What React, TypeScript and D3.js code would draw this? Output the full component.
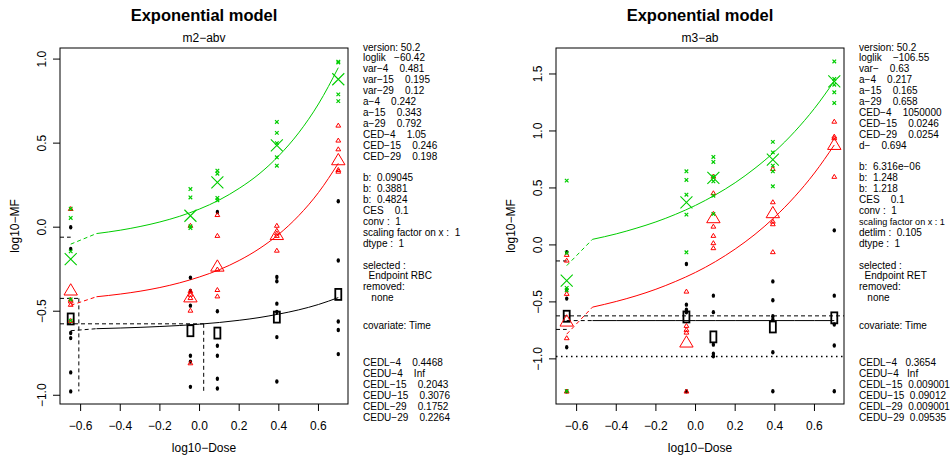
import React from 'react';
import * as d3 from 'd3';

// log10 doses (first column is the control group)
const logDose = [-0.65, -0.046, 0.09, 0.39, 0.7];
const xTicks = [-0.6, -0.4, -0.2, 0.0, 0.2, 0.4, 0.6];

// fitted curve, read at these log10-doses
const curveX = [-0.52, -0.4, -0.3, -0.2, -0.1, 0, 0.1, 0.2, 0.3, 0.4, 0.5, 0.6, 0.7];

// ---- m2-abv (RBC) ----
const abvBlack = [
  [0.0, -0.13, -0.63, -0.66, -0.864, -0.977],
  [-0.3, -0.38, -0.467, -0.765, -0.8, -0.95],
  [0.09, -0.5, -0.705, -0.765, -0.902, -0.96],
  [-0.296, -0.322, -0.455, -0.505, -0.654, -0.918],
  [0.154, -0.198, -0.561, -0.612, -0.755],
];
const abvRed = [
  [0.11, -0.43, -0.44, -0.46, -0.556],
  [0.01, -0.38, -0.4, -0.42, -0.495, -0.808],
  [0.074, -0.05, -0.25, -0.372, -0.41],
  [0.01, -0.035, -0.05, -0.138],
  [0.606, 0.517, 0.465, 0.342, 0.332],
];
const abvGreen = [
  [0.11, 0.055, -0.144, -0.43, -0.556],
  [0.227, 0.177, 0.005, -0.005],
  [0.336, 0.318, 0.174, 0.16],
  [0.626, 0.561, 0.5, 0.416, 0.366],
  [0.985, 0.98, 0.79, 0.75],
];
const abvBlackMean = [-0.546, -0.616, -0.63, -0.535, -0.4];
const abvRedMean = [-0.375, -0.416, -0.233, -0.045, 0.4];
const abvGreenMean = [-0.19, 0.068, 0.267, 0.487, 0.88];
const abvBlackCurve = [-0.604, -0.6, -0.596, -0.591, -0.585, -0.577, -0.567, -0.554, -0.538, -0.517, -0.492, -0.46, -0.419];
const abvRedCurve = [-0.414, -0.398, -0.381, -0.359, -0.331, -0.296, -0.253, -0.198, -0.129, -0.042, 0.068, 0.206, 0.38];
const abvGreenCurve = [-0.038, -0.018, 0.004, 0.031, 0.065, 0.108, 0.162, 0.231, 0.316, 0.425, 0.561, 0.733, 0.949];
const abvCurveStart = [-0.616, -0.465, -0.101];
const abvCes = [-0.575, -0.4236, -0.0596];
const abvCedLog = [0.021, -0.609, -0.703];
const abvYTicks = [-1.0, -0.5, 0.0, 0.5, 1.0];

// ---- m3-ab (RET) ----
const abBlack = [
  [-0.065, -0.392, -0.471, -0.898, -1.284],
  [-0.167, -0.524, -0.568, -0.591, -1.284],
  [-0.445, -0.59, -0.875, -0.954, -0.977],
  [-0.32, -0.486, -0.626, -0.655, -0.942, -1.284],
  [0.128, -0.445, -0.699, -0.883, -1.284],
];
const abRed = [
  [-0.085, -0.135, -0.427, -0.816, -1.284],
  [-0.407, -0.708, -0.743, -0.767, -1.284],
  [0.602, 0.456, 0.163, 0.082, 0.018, -0.026],
  [0.669, 0.377, 0.207, 0.184, -0.061],
  [1.084, 0.953, 0.939, 0.6],
];
const abGreen = [
  [0.564, -0.07, -0.377, -0.398, -1.284],
  [0.646, 0.57, 0.441, 0.266, -0.065],
  [0.772, 0.728, 0.6, 0.558, 0.432, 0.272],
  [0.904, 0.812, 0.696, 0.646, 0.514],
  [1.61, 1.456, 1.406, 1.339, 1.246],
];
const abBlackMean = [-0.626, -0.632, -0.807, -0.72, -0.64];
const abRedMean = [-0.67, -0.854, 0.237, 0.281, 0.88];
const abGreenMean = [-0.313, 0.374, 0.588, 0.748, 1.435];
const abBlackCurve = [-0.664, -0.664, -0.664, -0.664, -0.664, -0.664, -0.664, -0.664, -0.664, -0.664, -0.664, -0.664, -0.664];
const abRedCurve = [-0.546, -0.496, -0.447, -0.389, -0.32, -0.241, -0.147, -0.036, 0.093, 0.245, 0.423, 0.631, 0.877];
const abGreenCurve = [0.049, 0.097, 0.146, 0.202, 0.269, 0.347, 0.439, 0.546, 0.673, 0.82, 0.994, 1.198, 1.438];
const abCurveStart = [-0.664, -0.783, -0.182];
const abCes = [-0.6226, -0.7415, -0.1406];
const abCedLog = [6.02, -1.61, -1.595];
const abDetlim = -0.979;
const abYTicks = [-1.0, -0.5, 0.0, 0.5, 1.0, 1.5];

const abvNotes = [
  'version: 50.2', 'loglik   \u221260.42', 'var\u22124    0.481', 'var\u221215    0.195', 'var\u221229    0.12',
  'a\u22124    0.242', 'a\u221215    0.343', 'a\u221229    0.792', 'CED\u22124    1.05', 'CED\u221215    0.246',
  'CED\u221229    0.198', '', 'b:  0.09045', 'b:  0.3881', 'b:  0.4824', 'CES    0.1', 'conv :  1',
  'scaling factor on x :  1', 'dtype :  1', '', 'selected :', '  Endpoint RBC', 'removed:', '   none',
];
const abvCedNotes = [
  'CEDL\u22124    0.4468', 'CEDU\u22124    Inf', 'CEDL\u221215    0.2043',
  'CEDU\u221215    0.3076', 'CEDL\u221229    0.1752', 'CEDU\u221229    0.2264',
];
const abNotes = [
  'version: 50.2', 'loglik    \u2212106.55', 'var\u2212    0.63', 'a\u22124    0.217', 'a\u221215    0.165',
  'a\u221229    0.658', 'CED\u22124    1050000', 'CED\u221215    0.0246', 'CED\u221229    0.0254', 'd\u2212    0.694',
  '', 'b:  6.316e\u221206', 'b:  1.248', 'b:  1.218', 'CES    0.1', 'conv :  1', 'scaling factor on x : 1',
  'detlim :  0.105', 'dtype :  1', '', 'selected :', '  Endpoint RET', 'removed:', '   none',
];
const abCedNotes = [
  'CEDL\u22124   0.3654', 'CEDU\u22124   Inf', 'CEDL\u221215  0.009001',
  'CEDU\u221215  0.09012', 'CEDL\u221229  0.009001', 'CEDU\u221229  0.09535',
];

const FONT = 'Liberation Sans, Arial, Helvetica, sans-serif';
const GREEN = '#00cd00';
const RED = '#ff0000';
const TOP = 48, BOTTOM = 404, BOXW = 288;

const minus = (s: string) => s.replace('-', '\u2212');
const keepSpaces = (s: string) => s.replace(/ /g, '\u00a0');

function Panel(props: any) {
  const { left, sub, yDomain, yTicks, groups, ces, cedLog, detlim, notes, cedNotes, notesX, id } = props;
  const x = d3.scaleLinear().domain([-0.704, 0.749]).range([left, left + BOXW]);
  const y = d3.scaleLinear().domain(yDomain).range([BOTTOM, TOP]);
  const line = d3.line<number>().x((d, i) => x(curveX[i])).y(d => y(d)).curve(d3.curveMonotoneX);
  const yMin = d3.min(groups.flatMap((g: any) => g.pts.flat())) as number;
  const cx = left + BOXW / 2;

  return (
    <g fontFamily={FONT}>
      <defs>
        <clipPath id={id}><rect x={left} y={TOP} width={BOXW} height={BOTTOM - TOP} /></clipPath>
      </defs>
      <text x={cx} y={21} textAnchor="middle" fontSize={16.5} fontWeight="bold">Exponential model</text>
      <text x={cx} y={42} textAnchor="middle" fontSize={12}>{sub}</text>

      {/* axes */}
      {xTicks.map(t => (
        <g key={t}>
          <line x1={x(t)} x2={x(t)} y1={BOTTOM} y2={BOTTOM + 7} stroke="#000" />
          <text x={x(t)} y={429.5} textAnchor="middle" fontSize={12}>{minus(d3.format('.1f')(t))}</text>
        </g>
      ))}
      {yTicks.map((t: number) => (
        <g key={t}>
          <line x1={left - 7} x2={left} y1={y(t)} y2={y(t)} stroke="#000" />
          <text transform={`translate(${left - 14},${y(t)}) rotate(-90)`} textAnchor="middle" fontSize={12}>
            {minus(d3.format('.1f')(t))}
          </text>
        </g>
      ))}
      <text x={cx} y={452} textAnchor="middle" fontSize={12}>{'log10\u2212Dose'}</text>
      <text transform={`translate(${left - 41},${(TOP + BOTTOM) / 2}) rotate(-90)`} textAnchor="middle" fontSize={12}>
        {'log10\u2212MF'}
      </text>

      <g clipPath={`url(#${id})`}>
        {/* CES / CED reference lines */}
        {ces.map((c: number, i: number) => {
          const xe = x(Math.max(cedLog[i], logDose[0]));
          return (
            <g key={i} stroke="#000" strokeDasharray="4,3" fill="none">
              <line x1={left} x2={xe} y1={y(c)} y2={y(c)} />
              {cedLog[i] >= logDose[0] && cedLog[i] <= 0.749 && (
                <line x1={xe} x2={xe} y1={y(c)} y2={y(yMin)} />
              )}
            </g>
          );
        })}
        {detlim !== undefined && (
          <line x1={left} x2={left + BOXW} y1={y(detlim)} y2={y(detlim)} stroke="#000" strokeWidth={1.5} strokeDasharray="1.5,3.5" />
        )}
        {/* fitted curves */}
        {groups.map((g: any, i: number) => (
          <g key={i} stroke={g.color} fill="none">
            <path d={line(g.curve) as string} />
            <line x1={x(logDose[0])} y1={y(g.start)} x2={x(curveX[0])} y2={y(g.curve[0])} strokeDasharray="4,3" />
          </g>
        ))}
        {/* observations */}
        {groups.map((g: any, gi: number) => (
          <g key={gi}>
            {g.pts.map((vals: number[], di: number) => vals.map((v, k) => {
              const px = x(logDose[di]), py = y(v);
              if (g.shape === 'dot') return <ellipse key={di + '-' + k} cx={px} cy={py} rx={1.7} ry={2.2} fill="#000" />;
              if (g.shape === 'tri') return (
                <path key={di + '-' + k} d={`M${px},${py - 2.2}L${px + 2.4},${py + 1.8}L${px - 2.4},${py + 1.8}Z`} stroke={RED} fill="none" strokeWidth={1} />
              );
              return (
                <path key={di + '-' + k} d={`M${px - 1.8},${py - 1.8}L${px + 1.8},${py + 1.8}M${px - 1.8},${py + 1.8}L${px + 1.8},${py - 1.8}`} stroke={GREEN} strokeWidth={1.2} />
              );
            }))}
            {g.means.map((v: number, di: number) => {
              const px = x(logDose[di]), py = y(v);
              if (g.shape === 'dot') return <rect key={'m' + di} x={px - 3} y={py - 5.5} width={6} height={11} stroke="#000" strokeWidth={1.8} fill="none" />;
              if (g.shape === 'tri') return (
                <path key={'m' + di} d={`M${px},${py - 6.5}L${px + 6.7},${py + 4.8}L${px - 6.7},${py + 4.8}Z`} stroke={RED} fill="none" strokeWidth={1} />
              );
              return (
                <path key={'m' + di} d={`M${px - 6},${py - 6}L${px + 6},${py + 6}M${px - 6},${py + 6}L${px + 6},${py - 6}`} stroke={GREEN} strokeWidth={1.1} />
              );
            })}
          </g>
        ))}
      </g>
      <rect x={left} y={TOP} width={BOXW} height={BOTTOM - TOP} fill="none" stroke="#000" />

      {/* parameter notes */}
      <g fontSize={10}>
        {notes.map((s: string, i: number) => {
          const tight = notesX + 95 > 951 && s.length > 20;
          return (
            <text key={i} x={notesX} y={50.5 + i * 10.9} fontSize={tight ? 9.1 : 10}>
              {keepSpaces(s)}
            </text>
          );
        })}
        <text x={notesX} y={328.5}>covariate: Time</text>
        {cedNotes.map((s: string, i: number) => (
          <text key={'c' + i} x={notesX} y={365.5 + i * 11}>{keepSpaces(s)}</text>
        ))}
      </g>
    </g>
  );
}

export default function App() {
  const abvGroups = [
    { shape: 'dot', color: '#000', pts: abvBlack, means: abvBlackMean, curve: abvBlackCurve, start: abvCurveStart[0] },
    { shape: 'tri', color: RED, pts: abvRed, means: abvRedMean, curve: abvRedCurve, start: abvCurveStart[1] },
    { shape: 'x', color: GREEN, pts: abvGreen, means: abvGreenMean, curve: abvGreenCurve, start: abvCurveStart[2] },
  ];
  const abGroups = [
    { shape: 'dot', color: '#000', pts: abBlack, means: abBlackMean, curve: abBlackCurve, start: abCurveStart[0] },
    { shape: 'tri', color: RED, pts: abRed, means: abRedMean, curve: abRedCurve, start: abCurveStart[1] },
    { shape: 'x', color: GREEN, pts: abGreen, means: abGreenMean, curve: abGreenCurve, start: abCurveStart[2] },
  ];
  return (
    <svg width={951} height={457} style={{ position: 'absolute', left: 0, top: 0, background: '#fff' }}>
      <rect width={951} height={457} fill="#fff" />
      <Panel id="clipL" left={60} sub={'m2\u2212abv'} yDomain={[-1.052, 1.066]} yTicks={abvYTicks} groups={abvGroups}
        ces={abvCes} cedLog={abvCedLog} notes={abvNotes} cedNotes={abvCedNotes} notesX={363} />
      <Panel id="clipR" left={556} sub={'m3\u2212ab'} yDomain={[-1.396, 1.728]} yTicks={abYTicks} groups={abGroups}
        ces={abCes} cedLog={abCedLog} detlim={abDetlim} notes={abNotes} cedNotes={abCedNotes} notesX={859} />
    </svg>
  );
}
